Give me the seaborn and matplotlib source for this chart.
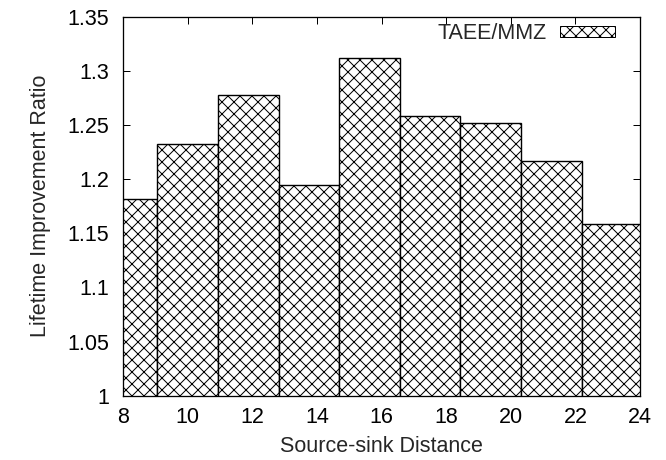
import numpy as np
import pandas as pd
import matplotlib
matplotlib.use('Agg')
import matplotlib.pyplot as plt
import seaborn as sns
from matplotlib.patches import Patch
from matplotlib.ticker import FuncFormatter

# Source-sink distance of each box and its lifetime improvement ratio
distances = [8.1, 10.0, 11.9, 13.76, 15.63, 17.5, 19.37, 21.26, 23.13]
ratios = [1.182, 1.232, 1.278, 1.195, 1.312, 1.258, 1.252, 1.217, 1.159]
series_label = 'TAEE/MMZ'

x_ticks = [8, 10, 12, 14, 16, 18, 20, 22, 24]
y_ticks = [1, 1.05, 1.1, 1.15, 1.2, 1.25, 1.3, 1.35]

sns.set_style("ticks")
plt.rcParams['font.family'] = ['Liberation Sans', 'DejaVu Sans']
plt.rcParams['hatch.linewidth'] = 1.0

FS = 21.5

df = pd.DataFrame({'distance': distances, 'ratio': ratios})

# box edges are the midpoints between neighbouring distances (gnuplot 'boxes' auto width)
d = np.array(distances)
mids = (d[1:] + d[:-1]) / 2
edges = np.concatenate([[d[0] - (mids[0] - d[0])], mids, [d[-1] + (d[-1] - mids[-1])]])

fig, ax = plt.subplots(figsize=(666 / 72, 460 / 72), dpi=72)
fig.subplots_adjust(left=0.185, right=0.961, top=0.9637, bottom=0.1398)

sns.histplot(data=df, x='distance', weights='ratio', bins=list(edges), ax=ax,
             color='white', alpha=1, edgecolor='black', linewidth=1.4,
             hatch='xx')

ax.set_xlim(8, 24)
ax.set_ylim(1, 1.35)
ax.set_xticks(x_ticks)
ax.set_yticks(y_ticks)
ax.yaxis.set_major_formatter(FuncFormatter(lambda v, p: f'{v:g}'))
ax.tick_params(direction='in', length=7, width=1, top=True, right=True,
               labelsize=FS, colors='black')
ax.tick_params(axis='y', pad=14)
ax.tick_params(axis='x', pad=11)
for s in ax.spines.values():
    s.set_linewidth(1.3)
    s.set_color('black')

ax.set_xlabel('Source-sink Distance', fontsize=FS, labelpad=8)
ax.set_ylabel('Lifetime Improvement Ratio', fontsize=FS, labelpad=16)

handle = Patch(facecolor='white', edgecolor='black', hatch='xx', linewidth=1.0)
ax.legend([handle], [series_label], loc='upper right', frameon=False,
          fontsize=FS, markerfirst=False, handlelength=2.56, handleheight=0.42,
          borderpad=0, borderaxespad=0, handletextpad=0.6,
          bbox_to_anchor=(1 - 25 / 516.7, 0.984))

fig.savefig('out.png', dpi=72)
